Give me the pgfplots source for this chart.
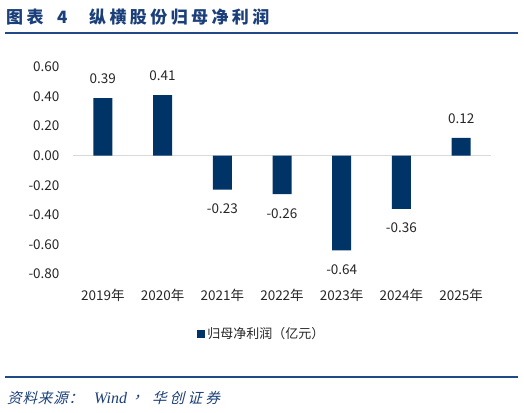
\documentclass[border=0pt]{standalone}
\usepackage{fontspec}
\setmainfont{Noto Sans CJK SC}
\newfontfamily\titlefont[LetterSpace=20]{Noto Sans CJK SC}
\newfontfamily\srcfont[FakeSlant=0.25,LetterSpace=6]{Noto Sans CJK SC}
\newfontfamily\srcwide[FakeSlant=0.25,LetterSpace=22]{Noto Sans CJK SC}
\newfontfamily\srclat{Liberation Serif}
\usepackage{pgfplots}
\pgfplotsset{compat=1.18}

\definecolor{barblue}{HTML}{003366}
\definecolor{titleblue}{HTML}{1B3F7A}
\definecolor{ruleblue}{HTML}{1F4A87}
\definecolor{txt}{HTML}{262626}
\definecolor{zeroline}{HTML}{D9D9D9}

% net profit attributable to parent, 100M yuan
\pgfplotstableread{
x val
0 0.39
1 0.41
2 -0.23
3 -0.26
4 -0.64
5 -0.36
6 0.12
}\profit

\begin{document}
\begin{tikzpicture}[x=1pt,y=1pt]
\path (0,0) rectangle (524,412);

% title and rules
\node[anchor=west, inner sep=0, text=titleblue, font=\titlefont\fontsize{17}{17}\selectfont\bfseries] at (6,395) {图表};
\node[anchor=west, inner sep=0, text=titleblue, font=\titlefont\fontsize{17}{17}\selectfont\bfseries] at (57,395) {4};
\node[anchor=west, inner sep=0, text=titleblue, font=\titlefont\fontsize{17}{17}\selectfont\bfseries] at (89,395) {纵横股份归母净利润};
\draw[ruleblue, line width=2pt] (5,379) -- (518,379);
\draw[ruleblue, line width=1.6pt] (5,35) -- (518,35);
\node[anchor=west, inner sep=0, text=titleblue, font=\srcfont\fontsize{14.5}{14.5}\selectfont] at (7,14) {资料来源：};
\node[anchor=west, inner sep=0, text=titleblue, font=\srclat\itshape\fontsize{16}{16}\selectfont] at (94,14) {Wind};
\node[anchor=west, inner sep=0, text=titleblue, font=\srcfont\fontsize{14.5}{14.5}\selectfont] at (134,14) {，};
\node[anchor=west, inner sep=0, text=titleblue, font=\srcwide\fontsize{14.5}{14.5}\selectfont] at (152,14) {华创证券};

\begin{axis}[
    at={(73pt,138pt)}, anchor=south west,
    width=418pt, height=207pt, scale only axis,
    xmin=-0.5, xmax=6.5,
    ymin=-0.8, ymax=0.6,
    axis line style={draw=none},
    major tick length=0pt,
    xtick={0,1,2,3,4,5,6},
    xticklabels={2019年,2020年,2021年,2022年,2023年,2024年,2025年},
    ytick={-0.8,-0.6,-0.4,-0.2,0,0.2,0.4,0.6},
    /pgf/number format/.cd, fixed, fixed zerofill, precision=2, assume math mode=true,
    /pgfplots/.cd,
    tick label style={font=\fontsize{13.5}{13.5}\selectfont, text=txt},
    yticklabel style={xshift=-10pt},
    xticklabel style={yshift=-12pt},
    legend style={at={(0.452,-0.29)}, anchor=center, draw=none, fill=none,
        font=\fontsize{13}{13}\selectfont, text=txt, inner sep=0pt},
    legend image code/.code={\fill[#1] (0pt,-4pt) rectangle (8pt,4pt);},
]
\addplot[draw=zeroline, line width=1.2pt, forget plot] coordinates {(-0.5,0) (6.5,0)};
\addplot[ybar, bar width=19pt, fill=barblue, draw=none,
    nodes near coords,
    every node near coord/.append style={font=\fontsize{13.5}{13.5}\selectfont, text=txt, inner ysep=14pt},
] table[x=x, y=val] {\profit};
\addlegendentry{归母净利润（亿元）}
\end{axis}
\end{tikzpicture}
\end{document}
